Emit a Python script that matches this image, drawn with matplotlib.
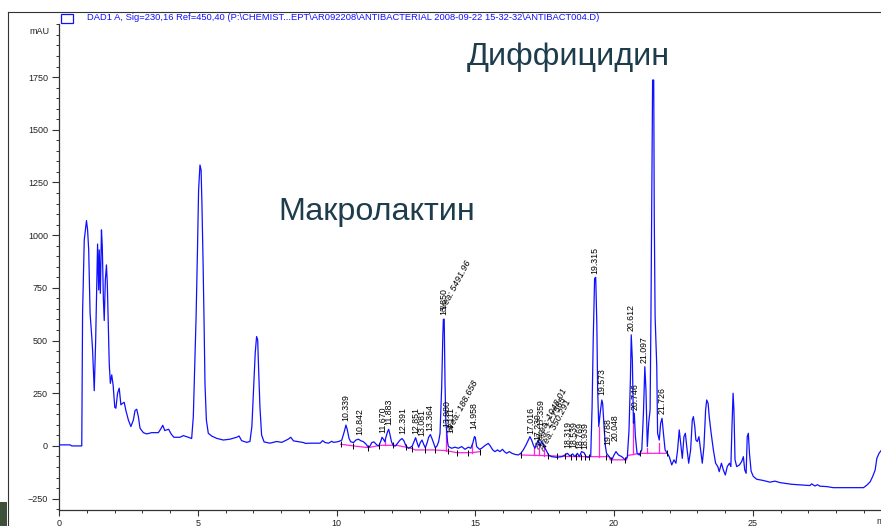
import numpy as np
import matplotlib.pyplot as plt
from matplotlib.patches import Rectangle
from matplotlib.lines import Line2D
from matplotlib.ticker import MultipleLocator

plt.rcParams['font.family'] = ['Liberation Sans', 'DejaVu Sans']

# DAD1 A trace, retention time (min) / absorbance (mAU)
rt = [0.00, 0.40, 0.46, 0.82, 0.85, 0.91, 0.99, 1.03, 1.07, 1.12, 1.18, 1.21, 1.27, 1.32, 1.39,
      1.43, 1.45, 1.49, 1.53, 1.56, 1.60, 1.63, 1.67, 1.71, 1.74, 1.78, 1.81, 1.85, 1.90, 1.95,
      2.01, 2.05, 2.11, 2.17, 2.23, 2.29, 2.35, 2.41, 2.50, 2.59, 2.68, 2.74, 2.80, 2.86, 2.92,
      3.04, 3.16, 3.34, 3.58, 3.66, 3.74, 3.81, 3.88, 3.95, 4.04, 4.14, 4.36, 4.48, 4.66, 4.78,
      4.84, 4.89, 4.94, 4.99, 5.03, 5.08, 5.12, 5.15, 5.19, 5.23, 5.26, 5.31, 5.38, 5.50, 5.68,
      5.92, 6.16, 6.40, 6.49, 6.58, 6.76, 6.88, 6.95, 7.01, 7.07, 7.12, 7.16, 7.19, 7.24, 7.30,
      7.39, 7.60, 7.84, 8.03, 8.26, 8.35, 8.45, 8.81, 8.88, 9.05, 9.41,
      9.50, 9.59, 9.71, 9.83, 9.89, 10.01, 10.10, 10.19, 10.28, 10.34, 10.39, 10.45, 10.51, 10.61,
      10.70, 10.79, 10.87, 10.97, 11.06, 11.15, 11.21, 11.27, 11.35, 11.45, 11.52, 11.59, 11.64,
      11.69, 11.74, 11.78, 11.84, 11.88, 11.93, 11.98, 12.05, 12.13, 12.20, 12.29, 12.36, 12.43,
      12.50, 12.59, 12.67, 12.73, 12.79, 12.85, 12.91, 12.96, 13.02, 13.08, 13.14, 13.20, 13.26,
      13.32, 13.38, 13.44, 13.50, 13.56, 13.62, 13.68, 13.73, 13.79, 13.83, 13.85, 13.88, 13.91,
      13.94, 13.97, 14.00, 14.03, 14.15, 14.27, 14.39, 14.51, 14.63, 14.75, 14.84, 14.91, 14.97,
      15.00, 15.05, 15.15, 15.23, 15.35, 15.47, 15.53, 15.63, 15.71, 15.80, 15.89, 15.98, 16.05,
      16.13, 16.23, 16.32, 16.43, 16.55, 16.64, 16.73, 16.83, 16.91, 16.97, 17.03, 17.09, 17.15,
      17.22, 17.27, 17.33, 17.39, 17.45, 17.55, 17.64, 17.75, 17.94, 18.12, 18.23, 18.32, 18.41,
      18.51, 18.59, 18.68, 18.75, 18.83, 18.92, 18.99, 19.07, 19.16,
      19.21, 19.25, 19.30, 19.34, 19.38, 19.41, 19.45, 19.50, 19.56, 19.59, 19.64, 19.69, 19.73,
      19.83, 19.92, 20.00, 20.07, 20.16, 20.28, 20.40, 20.48, 20.54, 20.59, 20.62, 20.66, 20.70,
      20.73, 20.77, 20.83, 20.91, 21.00, 21.06, 21.11, 21.15, 21.20, 21.25, 21.30, 21.33, 21.37,
      21.39, 21.43, 21.45, 21.48, 21.54, 21.57, 21.63, 21.68, 21.73, 21.78, 21.84, 21.92, 21.99,
      22.08, 22.16, 22.23, 22.29, 22.35, 22.40, 22.46, 22.52, 22.57, 22.62, 22.69, 22.76, 22.82,
      22.86, 22.91, 22.95, 23.00, 23.06, 23.12, 23.18, 23.24, 23.30, 23.34, 23.39, 23.43, 23.50,
      23.58, 23.66, 23.74, 23.79, 23.87, 23.94, 24.01, 24.08, 24.16, 24.21, 24.25, 24.29, 24.32,
      24.36, 24.42, 24.52, 24.60, 24.66, 24.71, 24.76, 24.80, 24.84, 24.88, 24.94, 25.02, 25.14,
      25.38, 25.62, 25.80, 25.98, 26.40, 26.82, 27.06, 27.12, 27.24, 27.33, 27.42, 27.67, 27.90,
      28.39, 28.99, 29.11, 29.23, 29.32, 29.41, 29.47, 29.55, 29.61]
mau = [5, 5, 0, 0, 634, 977, 1069, 1025, 930, 629, 519, 455, 262, 495, 958,
       740, 930, 724, 1025, 946, 693, 595, 788, 859, 772, 550, 392, 297, 337, 289,
       183, 179, 250, 274, 195, 202, 207, 168, 123, 92, 123, 168, 174, 139, 84,
       63, 57, 63, 63, 79, 98, 73, 76, 79, 57, 41, 41, 49, 41, 35,
       139, 376, 613, 930, 1214, 1333, 1309, 1151, 882, 566, 297, 123, 60, 47, 36,
       28, 32, 41, 47, 25, 17, 21, 92, 266, 440, 519, 503, 376, 187, 52,
       19, 13, 21, 17, 32, 41, 24, 16, 12, 13, 13,
       25, 16, 13, 22, 17, 19, 22, 28, 68, 99, 76, 36, 20, 16,
       28, 32, 25, 20, 9, -7, 0, 16, 19, 5, 0, 20, 41,
       32, 20, 41, 68, 79, 52, 20, 0, 0, 13, 28, 35, 24,
       0, -11, -6, 0, 20, 39, 13, -6, 16, 28, 8, -9, 13,
       41, 54, 35, 13, -9, 0, 20, 60, 282, 519, 601, 601, 297,
       110, 70, 20, -3, -11, -6, -11, -3, -16, -6, -11, 13, 44,
       41, -3, -16, -11, 2, 12, 2, -19, -27, -19, -27, -16, -27,
       -35, -27, -35, -40, -43, -35, -19, 5, 28, 44, 28, 5, -11,
       13, 28, -3, 21, 5, -19, -43, -51, -54, -51, -43, -35, -48,
       -38, -51, -35, -51, -27, -32, -51, -54, -48,
       187, 503, 795, 800, 582, 266, 92, 155, 218, 202, 92, -3, -35,
       -51, -66, -43, -27, -43, -51, -66, -51, 76, 313, 527, 408, 108,
       155, 44, -35, -43, -19, 155, 376, 266, -3, 110, 171, 613, 1404,
       1736, 1736, 1088, 613, 376, 60, 28, 108, 131, 60, -19, -35, -51,
       -90, -66, -82, -19, 76, 13, -59, 44, 60, -3, -82, -19, 123,
       139, 92, 28, 21, 44, -19, -82, -3, 171, 218, 202, 139, 60,
       -19, -82, -98, -122, -82, -114, -138, -98, -82, -98, 92, 250, 171,
       -66, -98, -90, -74, -51, -114, -130, 44, 60, -35, -120, -145, -158,
       -164, -172, -167, -174, -182, -186, -188, -180, -190, -184, -191, -193, -198,
       -198, -198, -186, -170, -145, -114, -59, -35, -24]

# integration baselines
base1_rt = [10.15, 10.61, 11.15, 11.57, 12.17, 12.71, 12.83, 13.49, 13.95, 14.33, 14.87, 15.17]
base1_mau = [8, 0, -8, 3, 3, -12, -19, -19, -22, -32, -32, -27]
base2_rt = [16.65, 17.75, 18.30, 19.00, 19.83, 19.86, 20.45, 20.50, 20.95, 21.90]
base2_mau = [-43, -47, -50, -51, -51, -66, -66, -45, -35, -35]

# peak split drop lines (time, top)
drop_rt = [11.76, 13.95, 14.88, 17.13, 17.30, 17.46, 19.46, 20.70, 21.18, 21.63]
drop_top = [30, 76, 10, -3, -3, 5, 92, 130, -8, 12]

# peak start/end marks
mark_rt = [10.15, 10.61, 11.15, 11.52, 12.05, 12.50, 12.73, 13.20, 13.56, 14.03, 14.33, 14.75,
           15.17, 16.65, 17.62, 17.95, 18.25, 18.45, 18.62, 18.80, 18.95, 19.10, 19.70, 19.90,
           20.40, 20.95, 21.90]

# retention time labels: text, time, height of label foot
peak_txt = ['10.339', '10.842', '11.670', '11.883', '12.391', '12.851', '13.081', '13.364',
            '13.850', '13.980', '14.111', '14.958', '17.016', '17.239', '17.359', '18.319',
            '18.539', '18.769', '18.939', '19.315', '19.573', '19.788', '20.048', '20.612',
            '20.746', '21.097', '21.726']
peak_rt = [10.339, 10.842, 11.670, 11.883, 12.391, 12.851, 13.081, 13.364,
           13.850, 13.980, 14.111, 14.958, 17.016, 17.239, 17.359, 18.319,
           18.539, 18.769, 18.939, 19.315, 19.573, 19.788, 20.048, 20.612,
           20.746, 21.097, 21.726]
peak_foot = [118, 50, 60, 98, 55, 58, 46, 72,
             620, 90, 62, 80, 55, 30, 95, -10,
             -12, -14, -16, 815, 240, 5, 25, 545,
             170, 395, 150]

area_txt = ['Area: 5491.96', 'Area: 188.658', 'Area: 1048.01', 'Area: 17.7565', 'Area: 350.291']
area_rt = [13.97, 14.20, 17.40, 17.36, 17.55]
area_foot = [625, 55, 20, -25, -35]

fig = plt.figure(figsize=(8.81, 5.26), dpi=100)
W, H = 881.0, 526.0
ax = fig.add_axes([59 / W, 1 - 510 / H, 822 / W, 485.6 / H])

ax.plot(rt, mau, color='#1010ff', lw=0.9, zorder=3)
ax.plot(base1_rt, base1_mau, color='#ff20e0', lw=0.9, zorder=2)
ax.plot(base2_rt, base2_mau, color='#ff20e0', lw=0.9, zorder=2)
for t, top in zip(drop_rt, drop_top):
    b = np.interp(t, base1_rt + base2_rt, base1_mau + base2_mau)
    ax.plot([t, t], [b, top], color='#ff20e0', lw=0.9, zorder=2)
mark_y = np.interp(mark_rt, base1_rt + base2_rt, base1_mau + base2_mau)
ax.plot(mark_rt, mark_y, ls='none', marker='|', ms=4, mew=0.7, color='black', zorder=4)

for s, t, f in zip(peak_txt, peak_rt, peak_foot):
    ax.text(t, f, s, rotation=90, ha='center', va='bottom', fontsize=6.3, color='black', zorder=5)
for s, t, f in zip(area_txt, area_rt, area_foot):
    ax.text(t, f, s, rotation=62, rotation_mode='anchor', ha='left', va='bottom',
            fontsize=6.6, style='italic', color='black', zorder=5)

ax.set_xlim(0, 29.62)
ax.set_ylim(-304, 2000)
ax.set_yticks([-250, 0, 250, 500, 750, 1000, 1250, 1500, 1750])
ax.set_xticks([0, 5, 10, 15, 20, 25])
ax.xaxis.set_minor_locator(MultipleLocator(1))
ax.yaxis.set_minor_locator(MultipleLocator(50))
ax.tick_params(axis='both', which='major', labelsize=6.5, labelcolor='#222222', color='#333333',
               width=0.8)
ax.tick_params(axis='y', which='major', length=5, pad=3)
ax.tick_params(axis='x', which='major', length=4, pad=2.5)
ax.tick_params(axis='both', which='minor', length=2, width=0.7, color='#333333')
for side in ['top', 'right']:
    ax.spines[side].set_visible(False)
for side in ['left', 'bottom']:
    ax.spines[side].set_color('#333333')
    ax.spines[side].set_linewidth(0.9)
ax.patch.set_alpha(0)

fig.text(50 / W, 1 - 32 / H, 'mAU', ha='right', va='center', fontsize=6.5, color='#222222')
fig.text(876 / W, 1 - 521 / H, 'min', ha='left', va='center', fontsize=6.5, color='#222222')

# outer frame and signal legend
fig.add_artist(Line2D([8 / W, 1], [1 - 12 / H, 1 - 12 / H], color='#333333', lw=0.8))
fig.add_artist(Line2D([8 / W, 8 / W], [0, 1 - 12 / H], color='#333333', lw=0.8))
fig.add_artist(Rectangle((61 / W, 1 - 22.5 / H), 12 / W, 8 / H, fill=False,
                         edgecolor='#1010ff', lw=0.9))
fig.text(87 / W, 1 - 18 / H,
         'DAD1 A, Sig=230,16 Ref=450,40 (P:\\CHEMIST...EPT\\AR092208\\ANTIBACTERIAL '
         '2008-09-22 15-32-32\\ANTIBACT004.D)',
         ha='left', va='center', fontsize=6.75, color='#1010ff')
fig.add_artist(Rectangle((0, 0), 7 / W, 24 / H, color='#3e4f3a', lw=0))

fig.text(377 / W, 1 - 212 / H, 'Макролактин', ha='center', va='center', fontsize=23.3,
         color='#1d3c4c')
fig.text(568 / W, 1 - 57 / H, 'Диффицидин', ha='center', va='center', fontsize=23.3,
         color='#1d3c4c')

fig.savefig('out.png', dpi=100)
